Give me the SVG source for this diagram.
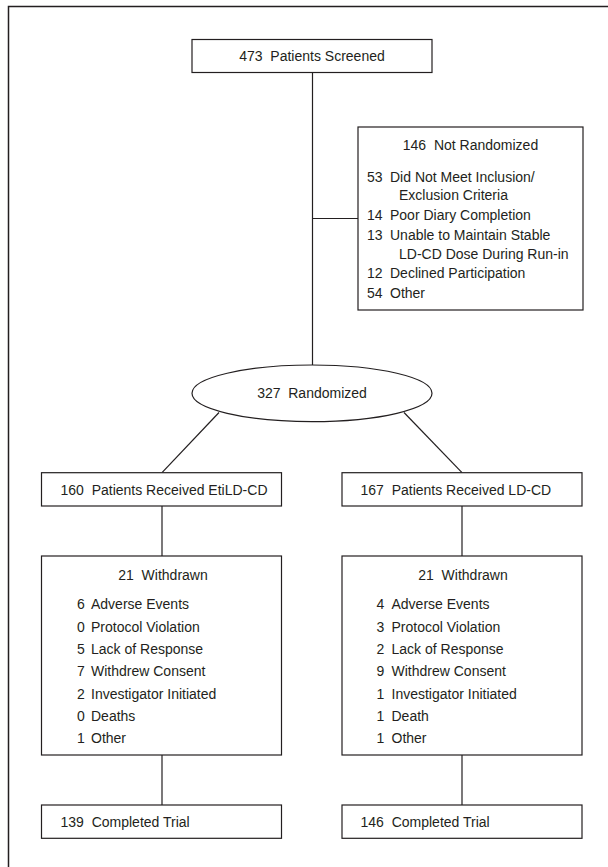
<svg xmlns="http://www.w3.org/2000/svg" width="608" height="867" viewBox="0 0 608 867">
<style>
  .box { fill: #ffffff; stroke: #231f20; stroke-width: 1.2; }
  .ln { fill: none; stroke: #231f20; stroke-width: 1.2; }
  text { font-family: "Liberation Sans", Arial, sans-serif; font-size: 14px; fill: #231f20; white-space: pre; }
  .mid { text-anchor: middle; }
</style>
<rect x="0" y="0" width="608" height="867" fill="#ffffff"/>
<rect x="8.5" y="6.5" width="640" height="900" fill="none" stroke="#231f20" stroke-width="1.5"/>

<g id="connectors">
  <line class="ln" x1="312.5" y1="72" x2="312.5" y2="365"/>
  <line class="ln" x1="312.5" y1="218.5" x2="358" y2="218.5"/>
  <line class="ln" x1="219" y1="412.5" x2="162" y2="472.7"/>
  <line class="ln" x1="404" y1="412.5" x2="462" y2="472.7"/>
  <line class="ln" x1="162" y1="506" x2="162" y2="556"/>
  <line class="ln" x1="462" y1="506" x2="462" y2="556"/>
  <line class="ln" x1="162" y1="755" x2="162" y2="805"/>
  <line class="ln" x1="462" y1="755" x2="462" y2="805"/>
</g>

<g id="screened">
  <rect class="box" x="192" y="39.5" width="240" height="33"/>
  <text class="mid" x="312" y="61">473  Patients Screened</text>
</g>

<g id="not-randomized">
  <rect class="box" x="358" y="127" width="225" height="183"/>
  <text class="mid" x="470.5" y="150">146  Not Randomized</text>
  <text x="367" y="181.5">53</text><text x="390" y="181.5">Did Not Meet Inclusion/</text>
  <text x="399" y="200">Exclusion Criteria</text>
  <text x="367" y="219.5">14</text><text x="390" y="219.5">Poor Diary Completion</text>
  <text x="367" y="240">13</text><text x="390" y="240">Unable to Maintain Stable</text>
  <text x="399" y="258.5">LD-CD Dose During Run-in</text>
  <text x="367" y="278">12</text><text x="390" y="278">Declined Participation</text>
  <text x="367" y="297.5">54</text><text x="390" y="297.5">Other</text>
</g>

<g id="randomized">
  <ellipse class="box" cx="312" cy="393.3" rx="120" ry="28.3"/>
  <text class="mid" x="312" y="398.3">327  Randomized</text>
</g>

<g id="received-etild">
  <rect class="box" x="41.5" y="472.7" width="240" height="33.3"/>
  <text x="60.5" y="495">160  Patients Received EtiLD-CD</text>
</g>

<g id="received-ld">
  <rect class="box" x="342" y="472.7" width="240" height="33.3"/>
  <text x="360.5" y="495">167  Patients Received LD-CD</text>
</g>

<g id="withdrawn-etild">
  <rect class="box" x="41.5" y="556" width="240" height="199"/>
  <text class="mid" x="163" y="579.5">21  Withdrawn</text>
  <text x="77" y="609.3">6</text><text x="91" y="609.3">Adverse Events</text>
  <text x="77" y="631.6">0</text><text x="91" y="631.6">Protocol Violation</text>
  <text x="77" y="653.9">5</text><text x="91" y="653.9">Lack of Response</text>
  <text x="77" y="676.2">7</text><text x="91" y="676.2">Withdrew Consent</text>
  <text x="77" y="698.5">2</text><text x="91" y="698.5">Investigator Initiated</text>
  <text x="77" y="720.8">0</text><text x="91" y="720.8">Deaths</text>
  <text x="77" y="743.1">1</text><text x="91" y="743.1">Other</text>
</g>

<g id="withdrawn-ld">
  <rect class="box" x="342" y="556" width="240" height="199"/>
  <text class="mid" x="463" y="579.5">21  Withdrawn</text>
  <text x="376.5" y="609.3">4</text><text x="391.5" y="609.3">Adverse Events</text>
  <text x="376.5" y="631.6">3</text><text x="391.5" y="631.6">Protocol Violation</text>
  <text x="376.5" y="653.9">2</text><text x="391.5" y="653.9">Lack of Response</text>
  <text x="376.5" y="676.2">9</text><text x="391.5" y="676.2">Withdrew Consent</text>
  <text x="376.5" y="698.5">1</text><text x="391.5" y="698.5">Investigator Initiated</text>
  <text x="376.5" y="720.8">1</text><text x="391.5" y="720.8">Death</text>
  <text x="376.5" y="743.1">1</text><text x="391.5" y="743.1">Other</text>
</g>

<g id="completed-etild">
  <rect class="box" x="41.5" y="805" width="240" height="33.3"/>
  <text x="60.5" y="826.7">139  Completed Trial</text>
</g>

<g id="completed-ld">
  <rect class="box" x="342" y="805" width="240" height="33.3"/>
  <text x="360.5" y="826.7">146  Completed Trial</text>
</g>
</svg>
